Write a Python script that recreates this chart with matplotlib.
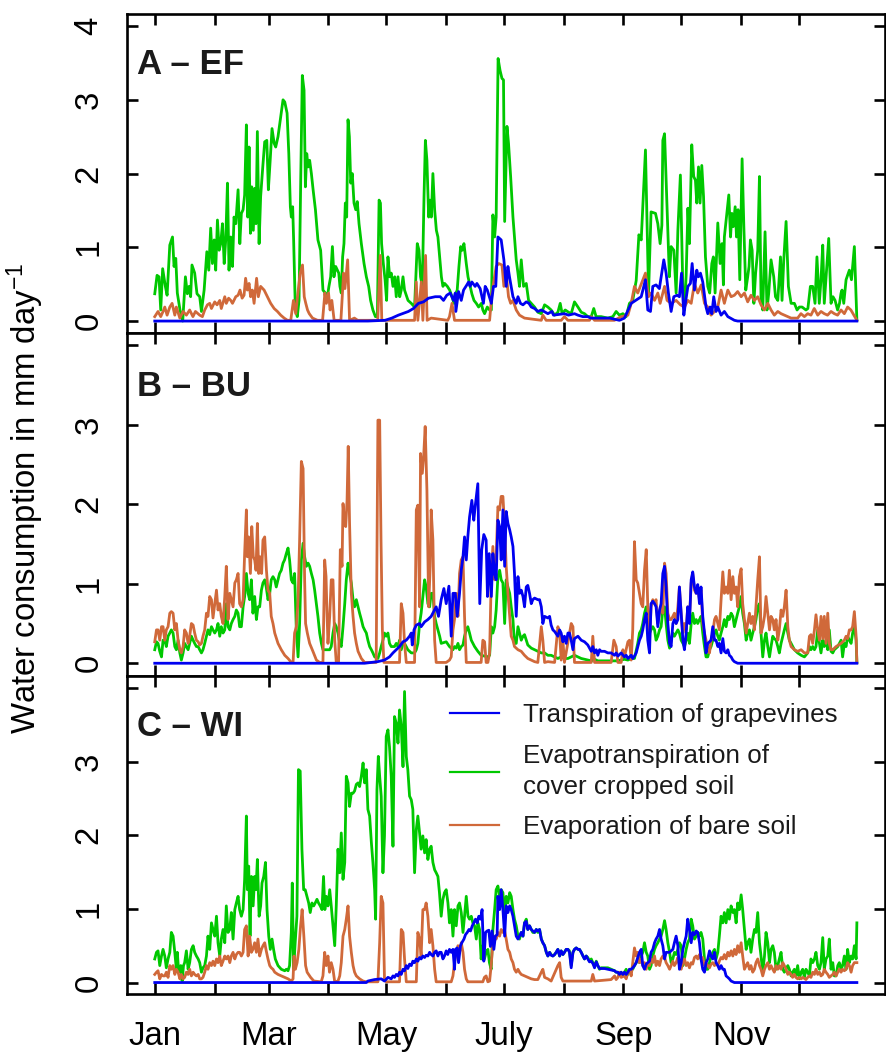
import matplotlib
matplotlib.use('Agg')
import matplotlib.pyplot as plt

plt.rcParams['font.family'] = ['Liberation Sans', 'DejaVu Sans']
plt.rcParams['mathtext.fontset'] = 'custom'
plt.rcParams['mathtext.rm'] = 'Liberation Sans'
plt.rcParams['mathtext.it'] = 'Liberation Sans:italic'
plt.rcParams['mathtext.bf'] = 'Liberation Sans:bold'

# ---------------- data ----------------
month_start_days = [1, 32, 60, 91, 121, 152, 182, 213, 244, 274, 305, 335]
month_labels = ['Jan', '', 'Mar', '', 'May', '', 'July', '', 'Sep', '', 'Nov', '']
y_ticks = [0, 1, 2, 3, 4]
panel_names = ['A \u2013 EF', 'B \u2013 BU', 'C \u2013 WI']
legend_labels = ['Transpiration of grapevines',
                 'Evapotranspiration of\ncover cropped soil',
                 'Evaporation of bare soil']
y_title = 'Water consumption in mm day$^{-1}$'

# (day of year, mm/day)
ef_green = [(1.0,0.37),(2.2,0.62),(3.2,0.60),(4.1,0.15),(5.1,0.71),(6.5,0.47),(7.4,0.35),(8.8,1.03),(10.2,1.14),(11.0,0.74),(11.9,0.85),(12.7,0.38),(14.1,0.15),(15.5,0.0),(16.9,0.60),(17.9,0.37),(18.8,0.47),(19.6,0.33),(20.3,0.76),(21.7,0.65),(22.9,0.37),(24.3,0.33),(25.2,0.13),(26.6,0.42),(28.0,0.94),(29.0,0.69),(30.0,1.26),(30.9,0.78),(31.8,1.10),(32.6,0.69),(33.5,1.37),(34.4,0.96),(35.2,1.05),(36.1,1.32),(37.0,0.78),(37.8,1.10),(38.7,1.87),(39.5,0.69),(40.4,1.14),(41.3,0.74),(42.1,1.41),(43.0,1.32),(44.2,1.78),(45.1,1.05),(45.9,1.46),(46.8,1.51),(47.6,1.71),(48.5,2.66),(49.2,1.41),(49.9,2.36),(50.6,1.19),(51.3,1.82),(52.1,1.23),(52.8,1.80),(53.5,1.32),(54.2,2.57),(55.1,1.05),(55.9,1.69),(57.0,2.09),(58.0,2.43),(59.1,2.45),(59.9,1.78),(60.8,2.16),(61.8,2.61),(62.9,2.41),(63.7,2.36),(64.9,2.50),(66.1,2.73),(67.5,3.00),(68.4,2.97),(69.6,2.82),(70.5,2.27),(71.3,1.55),(71.8,1.41),(72.5,1.55),(73.0,1.10),(73.9,0.15),(74.9,0.06),(75.8,0.28),(76.7,1.96),(77.5,3.33),(78.4,3.13),(79.1,1.82),(79.8,2.27),(80.5,2.09),(81.3,2.18),(82.2,2.00),(83.1,1.78),(84.3,1.51),(85.6,1.10),(87.0,0.96),(88.2,0.42),(89.4,0.38),(90.5,0.33),(91.3,0.47),(92.2,0.60),(93.1,1.01),(93.9,0.60),(94.8,0.74),(95.7,0.69),(96.4,0.65),(97.0,0.47),(97.7,0.38),(98.4,0.87),(99.1,1.05),(99.8,1.60),(100.5,1.41),(101.2,2.73),(101.9,2.50),(102.6,1.87),(103.4,2.00),(104.3,1.60),(105.2,1.51),(106.0,1.62),(106.9,1.32),(108.1,1.05),(109.5,0.78),(110.7,0.60),(111.9,0.47),(112.9,0.28),(114.1,0.15),(115.4,0.06),(116.4,0.06),(117.3,1.64),(118.0,1.60),(118.6,1.05),(119.5,0.78),(120.4,0.56),(121.2,0.28),(121.9,0.87),(122.8,0.60),(123.6,0.65),(124.5,0.47),(125.4,0.60),(126.2,0.33),(127.1,0.60),(128.0,0.33),(128.8,0.42),(129.7,0.60),(130.5,0.42),(132.3,0.28),(134.0,0.24),(135.7,0.19),(137.1,1.05),(138.0,0.96),(138.8,0.60),(139.7,0.47),(140.6,1.69),(141.3,2.45),(142.1,2.18),(143.0,1.41),(143.7,1.64),(144.4,1.41),(145.2,2.00),(146.1,1.51),(147.0,1.23),(147.8,1.14),(148.7,0.87),(149.6,0.60),(150.4,0.47),(151.3,0.51),(152.7,0.47),(153.9,0.42),(155.1,0.33),(156.1,0.24),(157.0,0.37),(157.8,0.42),(158.7,0.74),(159.6,1.01),(160.4,0.96),(161.3,1.05),(162.5,0.78),(163.4,0.60),(164.2,0.51),(165.4,0.37),(166.5,0.28),(167.7,0.24),(168.9,0.19),(170.3,0.24),(171.1,0.15),(172.0,0.10),(173.4,0.19),(174.6,0.15),(175.5,0.15),(176.3,1.44),(177.2,1.14),(178.0,1.41),
            (179.0,3.56),(180.0,3.40),(181.0,3.29),(181.8,3.27),(182.4,1.35),(183.6,2.64),(184.4,2.41),(185.5,1.96),(186.7,1.41),(188.4,0.83),(189.3,0.65),(190.1,0.47),(191.0,0.83),(192.2,0.47),(193.6,0.51),(194.8,0.28),(196.2,0.24),(197.9,0.19),(199.6,0.12),(201.4,0.10),(203.1,0.22),(204.8,0.19),(206.5,0.15),(208.3,0.08),(210.0,0.12),(211.2,0.24),(212.2,0.10),(213.8,0.15),(215.5,0.12),(216.9,0.10),(218.6,0.26),(220.4,0.19),(222.1,0.12),(223.8,0.10),(225.5,0.06),(227.3,0.06),(228.6,0.17),(229.8,0.06),(232.4,0.06),(235.9,0.04),(238.5,0.06),(240.2,0.13),(241.9,0.08),(243.7,0.10),(245.4,0.06),(247.1,0.24),(248.8,0.28),(250.6,0.55),(252.0,1.17),(253.2,1.10),(255.4,2.32),(257.0,0.38),(258.3,1.48),(260.6,1.46),(261.8,1.32),(263.0,1.05),(263.9,1.30),(264.4,2.45),(265.3,2.54),(266.6,1.51),(267.8,0.60),(268.7,1.01),(270.1,0.96),(271.3,0.38),(272.2,1.23),(273.5,1.98),(274.8,0.42),(275.6,0.15),(276.5,0.62),(277.4,1.53),(278.2,1.05),(279.4,2.39),(280.4,1.96),(281.3,1.91),(282.0,1.60),(282.9,2.09),(283.7,1.60),(284.6,2.11),(285.5,1.69),(286.5,0.87),(287.7,0.47),(288.7,0.38),(289.8,0.78),(290.6,0.87),(291.5,0.38),(292.9,1.33),(294.1,0.78),(295.1,1.05),(295.8,0.49),(296.3,1.14),(298.6,1.71),(299.5,1.14),(300.2,1.46),(300.9,1.28),(301.9,1.55),(302.6,1.14),(303.4,1.51),(304.3,0.56),(305.5,2.20),(306.4,1.28),(307.4,0.42),(308.4,0.60),(309.1,0.74),(309.8,1.10),(310.7,0.96),(311.6,0.24),(312.5,0.65),(313.6,0.96),(314.5,1.96),(315.3,0.33),(316.2,0.15),(317.4,1.21),(318.4,0.15),(319.3,0.38),(320.5,0.83),(321.9,0.60),(322.8,0.33),(324.0,0.28),(325.4,0.87),(326.2,0.28),(327.1,0.83),(328.3,1.35),(329.5,0.47),(330.9,0.24),(332.6,0.24),(334.0,0.15),(335.2,0.19),(336.6,0.19),(338.6,0.15),(339.6,0.17),(340.9,0.47),(342.1,0.47),(343.3,0.24),(344.3,0.87),(345.5,0.24),(346.4,0.56),(347.3,1.03),(348.1,0.24),(350.4,1.12),(351.6,0.24),(352.6,0.33),(353.7,0.28),(355.0,0.15),(356.0,0.24),(356.8,0.38),(357.3,0.42),(358.2,0.24),(359.4,0.56),(361.1,0.69),(362.2,0.56),(363.7,1.01),(365.0,0.01)]

ef_orange = [(1.0,0.06),(2.7,0.13),(4.1,0.06),(5.3,0.13),(6.2,0.19),(7.4,0.08),(8.8,0.19),(10.0,0.24),(11.4,0.08),(12.2,0.19),(14.0,0.04),(15.7,0.13),(17.4,0.08),(19.1,0.15),(20.8,0.06),(22.1,0.13),(24.3,0.08),(25.7,0.06),(26.9,0.15),(28.3,0.22),(29.5,0.24),(30.4,0.17),(32.1,0.26),(33.3,0.22),(34.7,0.28),(35.5,0.17),(37.3,0.33),(38.1,0.24),(39.3,0.31),(40.4,0.28),(41.3,0.24),(43.0,0.33),(44.2,0.35),(45.2,0.42),(46.3,0.31),(47.3,0.35),(48.1,0.58),(49.0,0.42),(49.9,0.51),(50.7,0.33),(51.6,0.42),(52.5,0.24),(53.8,0.58),(54.7,0.33),(55.9,0.47),(57.7,0.42),(59.4,0.33),(61.1,0.24),(62.9,0.17),(64.6,0.13),(66.3,0.08),(68.1,0.04),(69.8,0.01),(71.5,0.01),(72.9,0.28),(74.1,0.10),(75.0,0.33),(76.4,0.65),(77.6,0.76),(78.5,0.33),(79.3,0.24),(80.2,0.15),(81.1,0.10),(82.8,0.04),(85.4,0.01),(88.0,0.01),(89.2,0.38),(90.0,0.24),(91.1,0.38),(91.9,0.15),(92.8,0.28),(94.0,0.01),(97.5,0.01),(98.9,0.65),(99.6,0.44),(101.0,0.83),(102.0,0.01),(104.5,0.04),(106.2,0.01),(116.6,0.01),(117.9,0.89),(118.7,0.01),(135.7,0.01),(136.6,0.53),(137.4,0.01),(139.2,0.53),(140.0,0.01),(141.4,0.89),(142.2,0.01),(144.3,0.04),(152.9,0.01),(153.8,0.06),(155.1,0.24),(156.4,0.01),(170.3,0.01),(174.6,0.01),(175.8,0.38),(178.0,0.74),
             (179.3,0.78),(181.0,0.76),(182.0,0.47),(183.2,0.65),(184.4,0.33),(185.5,0.24),(186.7,0.28),(188.4,0.15),(190.1,0.08),(192.7,0.04),(201.4,0.01),(202.2,0.08),(203.9,0.01),(211.7,0.01),(213.4,0.06),(215.2,0.01),(226.4,0.01),(227.3,0.06),(229.0,0.01),(239.3,0.01),(242.8,0.06),(246.3,0.08),(248.0,0.24),(249.7,0.47),(251.4,0.38),(255.4,0.65),(257.0,0.33),(258.3,0.38),(260.1,0.28),(261.8,0.38),(263.0,0.24),(265.3,0.47),(266.6,0.28),(268.7,0.24),(271.3,0.28),(273.5,0.22),(275.6,0.19),(277.4,0.28),(279.1,0.24),(280.8,0.51),(282.5,0.38),(284.3,0.49),(286.0,0.24),(287.7,0.19),(289.4,0.08),(291.2,0.13),(292.9,0.19),(294.6,0.42),(296.3,0.24),(298.1,0.42),(299.8,0.33),(301.5,0.35),(303.2,0.40),(305.0,0.33),(306.7,0.38),(308.4,0.26),(310.1,0.35),(311.9,0.28),(313.6,0.33),(315.3,0.22),(317.1,0.15),(318.8,0.24),(320.5,0.15),(322.2,0.08),(324.0,0.13),(325.7,0.10),(327.4,0.08),(330.9,0.04),(334.3,0.04),(336.0,0.10),(337.8,0.06),(339.5,0.10),(341.2,0.08),(342.9,0.17),(344.7,0.08),(346.4,0.13),(348.1,0.10),(349.8,0.08),(351.6,0.13),(353.3,0.10),(355.0,0.08),(356.8,0.15),(358.5,0.10),(360.2,0.19),(361.9,0.15),(365.0,0.01)]

ef_blue = [(1,0.0),(111.5,0.0),(120.4,0.01),(123.9,0.04),(127.3,0.08),(132.5,0.13),(135.1,0.17),(137.7,0.24),(140.3,0.26),(142.9,0.31),(146.4,0.33),(149.0,0.33),(150.7,0.28),(152.4,0.35),(154.2,0.38),(155.9,0.28),(156.8,0.38),(157.1,0.13),(158.5,0.40),(159.9,0.28),(161.1,0.42),(162.8,0.49),(163.7,0.53),(164.5,0.47),(165.4,0.53),(167.1,0.47),(168.0,0.51),(169.7,0.44),(171.4,0.24),(172.3,0.47),(173.4,0.42),(175.5,0.24),(176.6,0.47),(177.8,0.47),
           (178.9,1.14),(180.6,1.10),(182.0,0.83),(183.2,0.47),(184.1,0.74),(184.9,0.60),(186.7,0.33),(188.4,0.24),(189.3,0.33),(190.6,0.24),(191.9,0.22),(193.6,0.26),(195.0,0.24),(196.2,0.19),(197.9,0.17),(199.6,0.13),(201.4,0.15),(202.8,0.13),(204.8,0.10),(206.9,0.13),(207.7,0.08),(213.4,0.10),(215.5,0.08),(218.6,0.10),(220.4,0.08),(222.9,0.06),(225.5,0.06),(227.0,0.04),(232.8,0.04),(236.9,0.04),(241.9,0.01),(244.5,0.04),(248.0,0.24),(253.2,0.33),(255.4,0.56),(256.6,0.15),(258.0,0.13),(259.2,0.47),(260.9,0.49),(262.6,0.44),(264.9,0.83),(266.1,0.65),(267.3,0.38),(268.7,0.13),(270.1,0.33),(271.8,0.35),(273.0,0.33),(274.1,0.65),(275.3,0.08),(276.1,0.24),(277.4,0.47),(278.7,0.51),(279.6,0.78),(280.8,0.42),(282.0,0.69),(282.9,0.60),(283.9,0.65),(285.1,0.53),(286.8,0.19),(287.7,0.10),(288.9,0.19),(289.8,0.10),(290.8,0.33),(292.0,0.13),(292.9,0.19),(294.6,0.08),(296.3,0.13),(298.1,0.06),(301.5,0.01),(303.2,0.0),(365,0.0)]

bu_green = [(1.0,0.17),(1.9,0.27),(2.7,0.25),(3.6,0.15),(4.5,0.08),(5.3,0.29),(6.2,0.29),(7.0,0.21),(7.9,0.34),(8.8,0.38),(9.6,0.42),(10.5,0.38),(11.4,0.21),(12.2,0.17),(13.1,0.29),(14.0,0.13),(14.8,0.04),(15.7,0.13),(16.5,0.25),(17.4,0.21),(18.3,0.17),(19.1,0.25),(20.0,0.34),(20.9,0.29),(21.7,0.25),(22.6,0.21),(23.5,0.21),(24.3,0.17),(25.2,0.13),(26.0,0.17),(26.9,0.25),(27.8,0.34),(28.6,0.42),(29.5,0.36),(30.4,0.46),(31.2,0.42),(32.1,0.38),(33.0,0.42),(33.8,0.50),(34.7,0.34),(35.5,0.46),(36.4,0.38),(37.3,0.42),(38.1,0.75),(39.0,0.46),(39.9,0.42),(40.7,0.50),(41.6,0.55),(42.5,0.59),(43.3,0.67),(44.2,0.63),(45.0,0.46),(45.9,0.46),(46.8,0.71),(47.6,0.84),(48.5,1.13),(49.4,0.88),(50.2,0.80),(51.1,1.05),(51.9,0.63),(52.8,0.84),(53.7,0.55),(54.5,0.71),(55.4,0.71),(56.3,0.92),(57.1,1.01),(58.0,1.05),(58.8,0.96),(59.7,0.80),(60.6,0.88),(61.4,1.05),(62.3,1.09),(63.2,1.05),(64.0,0.96),(64.9,1.05),(65.7,1.13),(66.6,1.17),(67.5,1.26),(68.3,1.30),(69.2,1.38),(70.1,1.45),(70.9,1.30),(71.8,1.05),(72.7,1.01),(73.5,1.13),(74.4,0.42),(75.3,0.08),(76.1,0.50),(77.0,1.30),(77.9,1.51),(78.7,1.34),(79.6,1.22),(80.5,1.26),(81.3,1.22),(82.2,1.13),(83.1,1.05),(83.9,0.92),(84.8,0.75),(85.6,0.59),(86.5,0.38),(87.4,0.25),(88.2,0.17),(89.1,0.17),(90.8,0.17),(91.7,0.17),(92.5,0.21),(93.4,0.38),(94.3,0.50),(95.1,0.46),(96.0,0.38),(96.9,0.25),(97.7,0.21),(98.6,0.46),(99.5,0.75),(100.3,1.05),(101.2,1.26),(102.0,1.13),(102.9,1.01),(103.8,0.80),(104.6,0.71),(105.5,0.80),(106.4,0.71),(107.2,0.63),(108.1,0.55),(109.0,0.46),(109.8,0.42),(110.7,0.38),(111.5,0.29),(112.4,0.21),(113.3,0.17),(114.1,0.13),(115.0,0.08),(116.7,0.06),(117.6,0.13),(118.4,0.21),(119.3,0.29),(120.1,0.38),(121.0,0.34),(121.9,0.38),(122.7,0.25),(123.6,0.21),(125.3,0.21),(126.2,0.25),(127.1,0.21),(127.9,0.29),(128.8,0.17),(129.7,0.25),(130.5,0.25),(132.2,0.17),(134.0,0.13),(135.7,0.13),(136.6,0.17),(137.4,0.25),(138.3,0.50),(139.1,0.63),(140.0,0.84),(140.9,1.05),(141.7,0.96),(142.6,0.75),(143.5,0.71),(144.3,0.88),(145.2,0.88),(146.1,0.59),(146.9,0.50),(147.8,0.42),(148.7,0.34),(149.5,0.25),(152.1,0.27),(153.8,0.21),(155.6,0.17),(156.4,0.21),(157.3,0.19),(158.2,0.25),(159.0,0.17),(159.9,0.21),(160.8,0.23),(161.6,0.34),(162.5,0.42),(163.3,0.46),(164.2,0.38),(165.1,0.29),(166.8,0.21),(168.5,0.15),(170.2,0.10),(171.9,0.09),(173.7,0.08),(174.6,0.10),
            (175.5,0.46),(176.3,0.38),(177.2,0.46),(178.0,0.67),(178.9,1.09),(179.8,1.17),(180.6,1.05),(181.5,1.01),(182.4,0.50),(183.2,1.05),(184.1,0.96),(185.0,0.88),(185.8,0.71),(186.7,0.55),(187.5,0.25),(188.4,0.25),(189.3,0.46),(190.1,0.38),(191.0,0.29),(191.9,0.34),(192.7,0.36),(193.6,0.29),(194.4,0.23),(195.3,0.21),(196.2,0.19),(197.9,0.17),(199.6,0.15),(201.4,0.13),(203.1,0.13),(204.8,0.10),(206.5,0.10),(208.3,0.08),(210.0,0.06),(211.7,0.08),(213.4,0.06),(215.2,0.06),(216.9,0.08),(218.6,0.10),(220.4,0.08),(222.1,0.06),(223.8,0.05),(225.5,0.04),(227.3,0.03),(229.0,0.05),(230.7,0.03),(234.2,0.03),(237.6,0.03),(241.1,0.03),(244.5,0.05),(246.3,0.04),(248.0,0.06),(249.7,0.06),(251.4,0.25),(252.3,0.38),(253.2,0.42),(254.0,0.50),(254.9,0.63),(255.8,0.71),(256.6,0.42),(257.5,0.38),(258.3,0.42),(259.2,0.46),(260.1,0.42),(260.9,0.29),(261.8,0.34),(262.7,0.42),(263.5,0.46),(264.4,0.67),(265.3,0.71),(266.1,0.50),(267.0,0.29),(267.9,0.19),(268.7,0.29),(269.6,0.38),(270.4,0.34),(271.3,0.38),(272.2,0.42),(273.0,0.38),(273.9,0.29),(274.8,0.25),(275.6,0.21),(276.5,0.29),(277.3,0.38),(278.2,0.25),(279.1,0.50),(279.9,0.63),(280.8,0.50),(281.7,0.55),(282.5,0.50),(283.4,0.55),(284.2,0.59),(285.1,0.38),(286.0,0.21),(286.8,0.08),(287.7,0.08),(288.6,0.17),(289.4,0.21),(290.3,0.29),(291.2,0.38),(292.0,0.42),(292.9,0.34),(293.7,0.29),(294.6,0.38),(295.5,0.46),(296.3,0.55),(297.2,0.46),(298.1,0.59),(298.9,0.55),(299.8,0.63),(300.7,0.59),(301.5,0.46),(302.4,0.55),(303.2,0.63),(304.1,0.71),(305.0,0.84),(305.8,0.63),(306.7,0.50),(307.6,0.29),(308.4,0.38),(309.3,0.42),(310.1,0.29),(311.0,0.38),(311.9,0.46),(312.7,0.55),(313.6,0.71),(314.5,0.75),(315.3,0.38),(316.2,0.08),(317.1,0.29),(317.9,0.38),(318.8,0.21),(319.7,0.08),(320.5,0.21),(321.4,0.34),(322.2,0.31),(323.1,0.29),(324.0,0.21),(324.8,0.13),(325.7,0.25),(326.6,0.34),(327.4,0.42),(328.3,0.50),(329.2,0.38),(330.0,0.29),(330.9,0.25),(332.6,0.17),(334.3,0.13),(336.1,0.10),(337.8,0.08),(339.5,0.13),(340.4,0.21),(341.2,0.17),(342.1,0.21),(343.0,0.17),(343.8,0.21),(344.7,0.42),(345.6,0.25),(346.4,0.13),(347.3,0.29),(348.1,0.21),(349.0,0.29),(349.9,0.17),(350.7,0.42),(351.6,0.15),(352.5,0.13),(353.3,0.17),(355.1,0.21),(356.8,0.29),(357.6,0.08),(358.5,0.25),(359.4,0.21),(360.2,0.34),(361.1,0.29),(362.0,0.25),(362.8,0.38),(363.7,0.46),(364.6,0.29),(365.0,0.01)]

bu_orange = [(1.0,0.27),(1.9,0.42),(2.7,0.42),(3.6,0.29),(4.5,0.46),(5.3,0.46),(6.2,0.29),(7.0,0.42),(7.9,0.46),(8.8,0.63),(9.6,0.65),(10.5,0.63),(11.4,0.42),(12.2,0.50),(13.1,0.29),(14.0,0.17),(14.8,0.13),(15.7,0.21),(16.5,0.42),(17.4,0.38),(18.3,0.25),(19.1,0.34),(20.0,0.50),(20.9,0.48),(21.7,0.38),(22.6,0.29),(23.5,0.27),(24.3,0.23),(25.2,0.25),(26.0,0.34),(26.9,0.42),(27.8,0.63),(28.6,0.59),(29.5,0.84),(30.4,0.80),(31.2,0.57),(32.1,0.75),(33.0,0.92),(33.8,0.67),(34.7,0.75),(35.5,0.59),(36.4,0.50),(37.3,0.84),(38.1,1.22),(39.0,0.55),(39.9,0.88),(40.7,0.80),(41.6,0.71),(42.5,1.01),(43.3,1.05),(44.2,1.13),(45.0,0.75),(45.9,0.71),(46.8,0.80),(47.6,1.38),(48.5,1.93),(49.0,1.34),(49.7,1.59),(50.6,1.13),(51.3,1.72),(52.1,1.34),(52.8,1.30),(53.5,1.17),(54.2,1.76),(54.9,1.13),(55.7,1.34),(56.4,1.13),(57.1,1.55),(58.0,1.59),(58.9,1.17),(59.7,0.92),(60.6,0.88),(61.4,0.59),(62.3,0.50),(63.2,0.38),(64.9,0.25),(66.6,0.17),(68.4,0.10),(70.1,0.06),(71.8,0.01),(72.7,0.01),(73.5,0.38),(74.4,0.46),(75.3,0.80),(76.1,1.55),(77.0,2.54),(77.9,2.45),(78.7,1.05),(79.2,0.50),(80.1,0.38),(81.3,0.25),(83.0,0.15),(84.8,0.04),(86.5,0.01),(88.2,0.01),(89.1,1.30),(89.8,1.09),(90.3,0.63),(90.8,0.25),(91.7,0.59),(92.5,1.05),(93.4,1.05),(94.3,0.29),(95.1,0.01),(96.3,0.01),(97.2,1.43),(98.1,1.22),(98.6,2.01),(99.3,1.80),(100.0,1.72),(100.7,2.05),(101.3,2.73),(102.0,1.76),(102.9,0.88),(103.8,0.59),(104.6,0.38),(105.5,0.25),(106.4,0.15),(108.1,0.06),(109.8,0.01),(115.8,0.01),(116.7,3.06),(117.6,3.06),(118.3,1.55),(119.0,0.42),(119.8,0.01),(127.9,0.01),(128.8,0.75),(129.7,0.63),(130.5,0.25),(131.4,0.01),(135.7,0.01),(136.6,1.93),(137.4,1.99),(138.3,0.71),(138.8,2.64),(139.7,2.39),(140.4,2.60),(141.2,2.98),(142.1,2.18),(143.0,0.71),(143.8,1.22),(144.3,1.93),(145.2,1.55),(146.1,0.29),(146.9,0.01),(152.1,0.01),(153.8,0.04),(154.7,0.08),(155.6,0.42),(156.4,0.55),(157.3,0.88),(158.2,0.59),(159.0,1.13),(159.9,1.30),(160.8,1.34),(161.6,0.59),(162.5,0.01),(170.2,0.01),(171.1,0.29),(172.0,0.27),(172.8,0.01),(173.7,0.01),(174.6,0.13),
             (175.5,1.13),(176.3,1.47),(177.2,1.05),(178.0,1.34),(178.9,1.97),(179.8,1.93),(180.6,2.10),(181.5,2.10),(182.4,1.72),(183.2,1.22),(184.1,0.88),(185.0,0.59),(185.8,0.34),(186.7,0.29),(187.5,0.21),(188.4,0.19),(189.3,0.17),(191.0,0.15),(192.7,0.10),(194.4,0.06),(196.2,0.04),(197.9,0.02),(199.6,0.01),(201.4,0.46),(202.2,0.29),(203.1,0.01),(204.8,0.02),(208.3,0.01),(210.0,0.46),(210.9,0.38),(211.7,0.04),(212.6,0.29),(213.4,0.01),(216.9,0.50),(217.8,0.46),(218.6,0.01),(227.3,0.01),(228.1,0.34),(229.0,0.01),(237.6,0.01),(239.0,0.29),(240.2,0.21),(241.1,0.01),(242.8,0.01),(243.7,0.17),(244.5,0.08),(246.3,0.27),(247.1,0.29),(248.0,0.04),(248.8,0.42),(249.7,1.53),(250.6,1.05),(251.4,1.01),(252.3,0.88),(253.2,0.75),(254.0,0.71),(254.9,1.17),(255.8,1.43),(256.6,0.71),(257.5,0.29),(258.3,0.71),(259.2,0.80),(260.1,0.75),(260.9,0.80),(261.8,0.50),(262.7,0.63),(263.5,0.71),(264.4,0.63),(265.3,1.26),(266.1,1.13),(267.0,0.63),(267.9,0.55),(268.7,0.55),(269.6,0.59),(270.4,0.63),(271.3,0.50),(272.2,0.71),(273.0,0.96),(273.9,0.63),(274.8,0.38),(275.6,0.50),(276.5,0.42),(277.3,0.71),(278.2,0.55),(279.1,1.01),(279.9,1.13),(280.8,0.92),(281.7,0.88),(282.5,0.96),(283.4,0.80),(284.2,0.92),(285.1,0.50),(286.0,0.38),(286.8,0.29),(287.7,0.17),(288.6,0.13),(289.4,0.29),(290.3,0.38),(291.2,0.55),(292.0,0.59),(292.9,0.50),(293.7,0.42),(294.6,0.80),(295.5,1.15),(296.3,0.88),(297.2,0.96),(298.1,0.88),(298.9,1.17),(299.8,0.80),(300.7,1.09),(301.5,0.88),(302.4,0.96),(303.2,0.71),(304.1,1.09),(305.0,1.19),(305.8,0.75),(306.7,0.55),(307.6,0.38),(308.4,0.50),(309.3,0.63),(310.1,0.50),(311.0,0.59),(311.9,0.42),(312.7,0.71),(313.6,1.05),(314.5,1.34),(315.3,0.38),(316.2,0.46),(317.1,0.59),(317.9,0.84),(318.8,0.63),(319.7,0.42),(320.5,0.59),(321.4,0.55),(322.2,0.42),(323.1,0.55),(324.0,0.29),(324.8,0.42),(325.7,0.67),(326.6,0.59),(327.4,0.71),(328.3,0.92),(329.2,0.46),(330.0,0.29),(330.9,0.21),(332.6,0.17),(334.3,0.15),(336.1,0.17),(337.8,0.13),(339.5,0.13),(340.4,0.34),(341.2,0.36),(342.1,0.25),(343.0,0.42),(343.8,0.61),(344.7,0.42),(345.6,0.29),(346.4,0.59),(347.3,0.31),(348.1,0.59),(349.0,0.25),(349.9,0.63),(350.7,0.25),(351.6,0.17),(352.5,0.17),(354.2,0.21),(356.8,0.25),(358.5,0.29),(359.4,0.34),(360.2,0.31),(361.1,0.42),(362.0,0.42),(362.8,0.46),(363.7,0.65),(364.6,0.34),(365.0,0.01)]

bu_blue = [(1,0.0),(109.8,0.0),(116.6,0.02),(120.1,0.04),(122.7,0.08),(124.5,0.13),(126.2,0.17),(127.9,0.21),(129.7,0.27),(131.4,0.29),(133.1,0.34),(134.0,0.38),(134.5,0.23),(135.4,0.42),(136.6,0.48),(138.3,0.50),(139.1,0.46),(140.9,0.52),(142.6,0.55),(144.3,0.59),(145.6,0.65),(146.9,0.71),(148.1,0.59),(149.5,0.80),(150.9,0.94),(152.1,0.75),(153.5,0.97),(154.7,0.34),(155.6,0.88),(156.8,0.88),(157.8,0.59),(159.0,0.88),(159.9,1.17),(160.8,1.34),(161.6,1.59),(162.5,1.30),(163.3,1.59),(164.2,1.84),(165.4,2.05),(166.4,1.80),(167.1,1.97),(168.5,2.26),(169.5,0.75),(170.5,1.43),(171.6,1.62),(172.8,1.55),(173.5,0.84),(174.4,1.38),
           (175.5,0.84),(176.3,1.38),(177.2,1.13),(178.0,1.05),(178.9,1.80),(179.8,1.72),(180.6,1.30),(181.5,1.93),(182.4,1.22),(183.2,1.91),(184.1,1.76),(185.0,1.68),(185.8,1.59),(186.7,1.47),(187.5,1.13),(188.4,0.59),(189.3,1.09),(190.1,0.88),(191.0,0.92),(191.9,0.84),(192.7,0.71),(193.6,0.96),(194.4,0.98),(195.3,0.88),(196.2,0.75),(197.0,0.80),(197.9,0.82),(199.6,0.80),(200.5,0.80),(201.4,0.71),(202.2,0.50),(203.1,0.59),(204.8,0.57),(205.7,0.59),(206.5,0.48),(207.4,0.42),(208.3,0.40),(210.0,0.34),(210.9,0.42),(211.7,0.38),(212.6,0.27),(213.4,0.34),(214.3,0.25),(215.2,0.38),(216.0,0.38),(216.9,0.29),(217.8,0.17),(218.6,0.31),(220.4,0.34),(222.1,0.29),(223.8,0.27),(225.5,0.23),(227.3,0.15),(228.1,0.21),(229.0,0.13),(229.9,0.17),(230.7,0.10),(231.6,0.17),(232.4,0.15),(234.2,0.15),(235.9,0.13),(237.6,0.13),(239.4,0.10),(240.2,0.13),(241.1,0.09),(242.8,0.13),(244.5,0.08),(245.4,0.10),(246.3,0.06),(248.0,0.10),(248.8,0.06),(249.7,0.09),(250.6,0.13),(252.3,0.29),(253.2,0.34),(254.0,0.42),(254.9,0.55),(255.8,0.63),(256.6,0.29),(257.5,0.13),(258.3,0.75),(259.2,0.78),(260.1,0.75),(260.9,0.71),(261.8,0.46),(262.7,0.67),(263.5,0.75),(264.4,1.13),(265.3,1.22),(266.1,0.96),(267.0,0.50),(267.9,0.25),(268.7,0.21),(269.6,0.50),(270.4,0.55),(271.3,0.50),(272.2,0.55),(273.0,0.96),(273.9,0.63),(274.8,0.29),(275.6,0.17),(276.5,0.38),(277.3,0.71),(278.2,0.50),(279.1,1.05),(279.9,1.15),(280.8,0.96),(281.7,0.88),(282.5,0.99),(283.4,0.75),(284.2,0.96),(285.1,0.59),(286.0,0.38),(286.8,0.13),(287.7,0.25),(288.6,0.27),(289.4,0.29),(290.3,0.46),(291.2,0.29),(292.0,0.29),(292.9,0.21),(293.7,0.25),(294.6,0.13),(295.5,0.31),(296.3,0.15),(297.2,0.13),(298.1,0.17),(298.9,0.10),(299.8,0.08),(300.7,0.04),(301.5,0.02),(303.2,0.0),(365,0.0)]

wi_green = [(1.0,0.32),(1.9,0.41),(2.7,0.43),(3.6,0.23),(4.5,0.36),(5.3,0.45),(6.2,0.36),(7.0,0.20),(7.9,0.32),(8.8,0.41),(9.6,0.68),(10.5,0.63),(11.4,0.41),(12.2,0.18),(12.7,0.41),(13.4,0.14),(14.5,0.23),(15.2,0.02),(15.9,0.23),(16.5,0.27),(17.4,0.43),(18.3,0.18),(19.1,0.27),(20.0,0.45),(20.9,0.50),(21.7,0.41),(22.6,0.36),(23.5,0.32),(24.3,0.27),(25.2,0.14),(26.0,0.20),(26.9,0.23),(27.8,0.36),(28.6,0.63),(29.5,0.45),(30.4,0.81),(31.2,0.72),(32.1,0.63),(33.0,0.90),(33.8,0.54),(34.7,0.36),(35.5,0.59),(36.4,0.72),(37.3,0.54),(38.1,1.04),(39.0,0.68),(39.9,0.72),(40.7,0.95),(41.6,0.59),(42.5,0.99),(43.3,1.08),(44.2,1.17),(45.0,0.99),(45.9,0.90),(46.8,0.99),(47.6,1.40),(48.5,2.26),(49.0,1.26),(49.7,1.58),(50.4,0.63),(51.1,1.44),(52.0,1.04),(52.8,1.44),(53.5,1.26),(54.2,1.67),(55.1,0.90),(55.9,1.04),(56.6,1.35),(57.5,1.44),(58.4,1.63),(59.2,0.99),(60.1,0.63),(60.9,0.45),(61.8,0.59),(62.6,0.45),(63.5,0.32),(64.9,0.23),(66.6,0.18),(68.4,0.16),(69.2,0.18),(70.1,0.16),(70.9,0.23),(71.8,0.68),(72.3,1.35),(73.0,0.18),(73.8,0.54),(74.7,0.90),(75.5,2.89),(76.4,2.87),(77.3,1.81),(78.2,1.26),(79.0,1.26),(79.9,1.17),(80.8,1.08),(81.6,0.95),(82.5,1.08),(83.4,1.04),(84.2,1.08),(85.1,1.13),(85.9,1.08),(86.8,1.04),(87.7,0.99),(88.5,1.44),(89.2,0.99),(89.9,1.17),(90.8,1.04),(91.7,1.26),(92.5,1.04),(93.4,0.77),(94.3,0.50),(95.1,1.04),(96.0,1.81),(96.9,1.49),(97.7,2.03),(98.6,1.40),(99.5,1.63),(100.3,2.80),(101.2,2.71),(102.0,2.39),(102.9,2.57),(103.8,2.57),(104.6,2.60),(105.5,2.69),(106.4,2.71),(107.2,2.66),(108.1,2.80),(109.0,2.98),(109.8,2.71),(110.7,2.89),(111.5,2.35),(112.4,2.26),(113.3,1.90),(114.1,1.63),(115.0,1.26),(115.5,0.86),(116.2,2.62),(116.9,3.07),(117.6,2.80),(118.4,2.53),(119.3,1.49),(120.1,1.99),(121.0,3.34),(121.9,3.43),(122.7,3.20),(123.6,2.80),(124.5,1.85),(125.3,3.61),(126.2,3.52),(127.1,3.25),(127.9,3.70),(128.8,3.48),(129.7,2.93),(130.5,3.95),(131.4,3.07),(132.2,2.89),(133.1,2.53),(134.0,2.48),(134.8,2.35),(135.7,1.49),(136.6,2.08),(137.4,2.26),(138.3,2.03),(139.1,1.81),(140.0,1.99),(140.9,1.76),(141.7,1.94),(142.6,1.67),(143.5,1.81),(144.3,1.85),(145.2,1.63),(146.1,1.53),(146.9,1.49),(147.8,1.44),(148.6,1.22),(149.5,0.90),(150.4,1.13),(151.2,1.22),(152.1,1.26),(153.0,1.08),(153.8,0.81),(154.7,0.99),(155.6,0.63),(156.4,0.99),(157.3,0.77),(158.2,1.04),(159.0,1.08),(159.9,0.95),(160.8,0.68),(161.6,0.90),(162.5,1.17),(163.4,0.90),(164.2,0.86),(165.1,0.90),(165.9,0.81),(166.8,0.77),(167.7,0.59),(168.5,0.81),(169.4,0.72),(170.2,0.32),(171.1,0.50),(171.9,0.32),(172.8,0.41),(173.7,0.45),(174.5,0.27),(175.4,0.18),
            (176.3,0.72),(177.2,0.99),(178.0,1.26),(178.9,1.31),(179.8,1.17),(180.6,1.26),(181.5,1.22),(182.4,0.90),(183.2,1.17),(184.1,1.08),(185.0,1.22),(185.8,1.17),(186.7,0.99),(187.5,0.86),(188.4,0.77),(189.3,0.63),(190.1,0.59),(191.0,0.68),(191.9,0.63),(192.7,0.81),(193.6,0.86),(194.4,0.72),(195.3,0.77),(196.2,0.72),(197.0,0.68),(197.9,0.68),(198.8,0.72),(199.6,0.68),(200.5,0.72),(201.4,0.59),(202.2,0.54),(203.1,0.50),(204.0,0.41),(204.8,0.36),(205.7,0.41),(206.5,0.38),(207.4,0.36),(208.3,0.38),(209.1,0.41),(210.0,0.45),(210.9,0.36),(211.7,0.43),(212.6,0.38),(213.4,0.41),(214.3,0.45),(215.2,0.45),(216.0,0.43),(216.9,0.23),(217.8,0.41),(218.6,0.45),(219.5,0.47),(220.4,0.45),(221.2,0.45),(222.1,0.41),(223.0,0.36),(223.8,0.32),(224.7,0.36),(225.5,0.34),(226.4,0.29),(227.3,0.32),(228.1,0.27),(229.0,0.23),(229.9,0.29),(230.7,0.23),(231.6,0.18),(232.4,0.20),(234.2,0.20),(235.9,0.20),(237.6,0.18),(239.4,0.16),(240.2,0.14),(241.1,0.14),(241.9,0.11),(242.8,0.14),(243.7,0.09),(244.5,0.14),(245.4,0.18),(246.3,0.11),(247.1,0.16),(248.0,0.18),(248.8,0.18),(249.7,0.23),(250.6,0.27),(251.4,0.32),(252.3,0.27),(253.2,0.36),(254.0,0.41),(254.9,0.54),(255.8,0.41),(256.6,0.36),(257.5,0.18),(258.3,0.23),(259.2,0.36),(260.1,0.45),(260.9,0.50),(261.8,0.54),(262.7,0.59),(263.5,0.63),(264.4,0.72),(265.3,0.84),(266.1,0.72),(267.0,0.54),(267.9,0.41),(268.7,0.27),(269.6,0.32),(270.4,0.41),(271.3,0.38),(272.2,0.45),(273.0,0.54),(273.9,0.50),(274.8,0.23),(275.6,0.32),(276.5,0.45),(277.3,0.54),(278.2,0.59),(279.1,0.86),(279.9,0.77),(280.8,0.59),(281.7,0.63),(282.5,0.68),(283.4,0.63),(284.2,0.68),(285.1,0.59),(286.0,0.32),(286.8,0.18),(287.7,0.18),(288.6,0.27),(289.4,0.36),(290.3,0.41),(291.2,0.45),(292.0,0.32),(292.9,0.41),(293.7,0.63),(294.6,0.90),(295.5,0.81),(296.3,0.95),(297.2,0.81),(298.1,0.99),(298.9,0.86),(299.8,1.04),(300.7,0.95),(301.5,0.99),(302.4,0.81),(303.2,1.08),(304.1,0.99),(305.0,1.19),(305.8,0.99),(306.7,0.72),(307.6,0.45),(308.4,0.54),(309.3,0.59),(310.1,0.41),(311.0,0.59),(311.9,0.72),(312.7,0.68),(313.6,0.95),(314.5,0.54),(315.3,0.36),(316.2,0.14),(317.1,0.36),(317.9,0.68),(318.8,0.54),(319.7,0.27),(320.5,0.45),(321.4,0.50),(322.2,0.41),(323.1,0.18),(324.0,0.23),(324.8,0.32),(325.7,0.41),(326.6,0.18),(327.4,0.14),(328.3,0.18),(329.2,0.23),(330.0,0.18),(330.9,0.09),(331.7,0.14),(332.6,0.18),(333.4,0.09),(334.3,0.23),(335.2,0.05),(336.1,0.14),(336.9,0.18),(337.8,0.07),(338.6,0.18),(339.5,0.14),(340.4,0.09),(341.2,0.32),(342.1,0.27),(343.0,0.32),(343.8,0.41),(344.7,0.23),(345.6,0.18),(346.4,0.27),(347.3,0.61),(348.1,0.18),(349.0,0.32),(349.9,0.36),(350.7,0.59),(351.6,0.18),(352.5,0.27),(353.3,0.09),(354.2,0.09),(355.1,0.23),(355.9,0.27),(356.8,0.18),(357.6,0.23),(358.5,0.36),(359.4,0.18),(360.2,0.45),(361.1,0.27),(362.0,0.36),(362.8,0.32),(363.7,0.50),(364.6,0.32),(365.0,0.81)]

wi_orange = [(1.0,0.11),(1.9,0.14),(2.7,0.16),(3.6,0.05),(4.5,0.11),(5.3,0.09),(6.2,0.09),(7.0,0.14),(7.9,0.07),(8.8,0.23),(9.6,0.18),(10.5,0.23),(11.4,0.11),(12.2,0.18),(13.1,0.14),(14.0,0.05),(14.8,0.11),(15.7,0.05),(16.5,0.07),(17.4,0.14),(18.3,0.11),(19.1,0.18),(20.0,0.09),(20.9,0.14),(21.7,0.11),(22.6,0.09),(23.5,0.11),(24.3,0.05),(25.2,0.05),(26.0,0.07),(26.9,0.14),(27.8,0.23),(28.6,0.18),(29.5,0.27),(30.4,0.23),(31.2,0.29),(32.1,0.23),(33.0,0.32),(33.8,0.27),(34.7,0.36),(35.5,0.23),(36.4,0.29),(37.3,0.36),(38.1,0.32),(39.0,0.36),(39.9,0.27),(40.7,0.36),(41.6,0.41),(42.5,0.32),(43.3,0.38),(44.2,0.41),(45.0,0.41),(45.9,0.36),(46.8,0.41),(47.6,0.72),(48.5,0.77),(49.4,0.36),(50.2,0.63),(51.1,0.41),(51.9,0.45),(52.8,0.54),(53.7,0.41),(54.5,0.59),(55.4,0.36),(56.3,0.45),(57.1,0.50),(58.0,0.54),(58.8,0.43),(59.7,0.32),(60.6,0.23),(61.4,0.20),(62.3,0.18),(63.2,0.14),(64.9,0.11),(66.6,0.09),(68.4,0.07),(70.1,0.05),(71.8,0.02),(72.7,0.05),(73.2,0.36),(73.9,0.18),(74.8,0.27),(75.7,0.45),(76.6,0.77),(77.4,0.99),(78.3,0.63),(79.2,0.23),(80.0,0.14),(81.8,0.07),(83.5,0.02),(87.3,0.01),(88.2,0.09),(89.1,0.41),(89.9,0.23),(90.8,0.36),(91.6,0.14),(92.5,0.27),(93.4,0.18),(94.3,0.01),(96.0,0.02),(96.9,0.09),(97.7,0.27),(98.6,0.63),(99.5,0.72),(100.3,0.86),(101.2,1.04),(102.0,0.63),(102.9,0.41),(103.8,0.23),(104.6,0.14),(105.5,0.09),(107.2,0.05),(109.0,0.02),(110.7,0.01),(116.7,0.01),(117.6,0.54),(118.4,1.17),(119.3,1.08),(120.1,0.05),(121.0,0.01),(127.9,0.01),(128.8,0.72),(129.7,0.68),(130.5,0.32),(131.4,0.01),(136.6,0.01),(137.4,0.68),(138.3,0.59),(139.1,0.36),(140.0,0.99),(140.9,0.99),(141.7,1.08),(142.6,0.90),(143.5,0.54),(144.3,0.72),(145.2,0.50),(146.1,0.18),(146.9,0.01),(154.7,0.01),(155.6,0.09),(156.4,0.27),(157.3,0.41),(158.2,0.50),(159.0,0.41),(159.9,0.54),(160.8,0.41),(161.6,0.18),(162.5,0.05),(163.3,0.01),(171.1,0.01),(171.9,0.07),(172.8,0.09),(173.7,0.01),(174.6,0.02),(175.4,0.23),
             (176.3,0.54),(177.2,0.63),(178.0,0.59),(178.9,0.68),(179.8,0.63),(180.6,0.72),(181.5,0.68),(182.4,0.70),(183.2,0.59),(184.1,0.45),(185.0,0.41),(185.8,0.32),(186.7,0.27),(187.5,0.18),(188.4,0.14),(189.3,0.18),(190.1,0.14),(191.0,0.11),(192.7,0.09),(194.4,0.07),(196.2,0.05),(197.9,0.04),(199.6,0.04),(201.4,0.14),(202.2,0.18),(203.1,0.07),(204.8,0.05),(206.5,0.02),(210.0,0.23),(210.9,0.27),(211.7,0.07),(212.6,0.02),(227.3,0.02),(228.1,0.11),(229.0,0.02),(237.6,0.04),(239.4,0.09),(240.2,0.04),(241.1,0.07),(241.9,0.14),(242.8,0.07),(244.5,0.09),(245.4,0.05),(246.3,0.14),(247.1,0.18),(248.0,0.09),(248.8,0.27),(249.7,0.47),(250.6,0.36),(251.4,0.41),(252.3,0.27),(253.2,0.32),(254.0,0.23),(254.9,0.27),(255.8,0.18),(256.6,0.27),(257.5,0.23),(258.3,0.32),(259.2,0.27),(260.1,0.36),(260.9,0.23),(261.8,0.29),(262.7,0.23),(263.5,0.32),(264.4,0.36),(265.3,0.34),(266.1,0.27),(267.0,0.23),(267.9,0.18),(268.7,0.23),(269.6,0.29),(270.4,0.23),(271.3,0.27),(272.2,0.34),(273.0,0.23),(273.9,0.18),(274.8,0.27),(275.6,0.32),(276.5,0.23),(277.3,0.27),(278.2,0.20),(279.1,0.27),(279.9,0.25),(280.8,0.34),(281.7,0.36),(282.5,0.32),(283.4,0.38),(284.2,0.32),(285.1,0.34),(286.0,0.23),(286.8,0.27),(287.7,0.23),(288.6,0.20),(289.4,0.25),(290.3,0.27),(291.2,0.23),(292.0,0.27),(292.9,0.23),(293.7,0.29),(294.6,0.34),(295.5,0.32),(296.3,0.38),(297.2,0.32),(298.1,0.41),(298.9,0.36),(299.8,0.43),(300.7,0.36),(301.5,0.45),(302.4,0.38),(303.2,0.50),(304.1,0.41),(305.0,0.54),(305.8,0.36),(306.7,0.18),(307.6,0.23),(308.4,0.27),(309.3,0.18),(310.1,0.23),(311.0,0.14),(311.9,0.18),(312.7,0.27),(313.6,0.32),(314.5,0.23),(315.3,0.18),(316.2,0.09),(317.1,0.18),(317.9,0.23),(318.8,0.27),(319.7,0.18),(320.5,0.23),(321.4,0.18),(322.2,0.14),(323.1,0.23),(324.0,0.18),(324.8,0.23),(325.7,0.18),(326.6,0.27),(327.4,0.23),(328.3,0.18),(329.2,0.11),(330.0,0.14),(330.9,0.11),(331.7,0.07),(332.6,0.11),(333.4,0.07),(334.3,0.05),(335.2,0.07),(336.1,0.05),(337.0,0.07),(338.6,0.04),(339.5,0.07),(340.4,0.09),(341.2,0.07),(342.1,0.14),(343.0,0.11),(343.8,0.18),(344.7,0.11),(345.6,0.14),(346.4,0.09),(347.3,0.11),(348.1,0.18),(349.0,0.14),(349.9,0.11),(350.7,0.07),(351.6,0.09),(352.5,0.11),(353.3,0.14),(354.2,0.09),(355.1,0.14),(355.9,0.18),(356.8,0.14),(357.6,0.18),(358.5,0.16),(359.4,0.18),(360.2,0.27),(361.1,0.23),(362.0,0.14),(362.8,0.23),(363.7,0.27),(365.0,0.27)]

wi_blue = [(1,0.0),(110.7,0.0),(111.5,0.02),(114.9,0.04),(118.4,0.05),(120.1,0.02),(121.9,0.07),(123.6,0.05),(124.5,0.09),(125.3,0.07),(126.2,0.11),(127.1,0.09),(127.9,0.14),(128.8,0.11),(129.7,0.18),(130.5,0.16),(131.4,0.23),(132.2,0.19),(133.1,0.25),(134.0,0.23),(134.8,0.29),(135.7,0.27),(136.6,0.32),(137.4,0.29),(138.3,0.34),(139.1,0.32),(140.0,0.36),(140.9,0.34),(141.7,0.37),(142.6,0.36),(143.5,0.41),(144.3,0.38),(145.2,0.36),(146.1,0.41),(146.9,0.43),(147.8,0.36),(148.6,0.41),(149.5,0.41),(150.4,0.32),(151.2,0.36),(152.1,0.43),(152.9,0.38),(153.8,0.45),(154.7,0.41),(155.6,0.45),(156.4,0.18),(156.9,0.45),(157.8,0.47),(158.5,0.27),(159.5,0.50),(160.2,0.54),(161.3,0.59),(162.1,0.65),(163.0,0.68),(163.9,0.72),(164.7,0.70),(165.6,0.77),(166.4,0.81),(167.3,0.86),(168.2,0.81),(169.0,0.90),(169.9,0.86),(170.7,0.99),(171.6,0.29),(172.5,0.68),(173.3,0.70),(174.2,0.71),(175.0,0.49),(175.9,0.70),(176.8,0.45),(177.6,0.63),(178.5,0.65),
           (178.9,1.17),(179.8,0.99),(180.6,1.26),(181.5,0.99),(182.4,0.63),(183.2,1.04),(184.1,0.95),(185.0,1.04),(185.8,0.99),(186.7,0.90),(187.5,0.77),(188.4,0.63),(189.3,0.59),(190.1,0.63),(191.0,0.68),(191.9,0.63),(192.7,0.81),(193.6,0.83),(194.4,0.72),(195.3,0.77),(196.2,0.72),(197.0,0.70),(197.9,0.68),(198.8,0.72),(199.6,0.70),(200.5,0.72),(201.4,0.59),(202.2,0.54),(203.1,0.50),(204.0,0.41),(204.8,0.36),(205.7,0.41),(206.5,0.37),(207.4,0.36),(208.3,0.38),(209.1,0.41),(210.0,0.45),(210.9,0.36),(211.7,0.43),(212.6,0.38),(213.4,0.41),(214.3,0.45),(215.2,0.45),(216.0,0.41),(216.9,0.20),(217.8,0.41),(218.6,0.45),(219.5,0.47),(220.4,0.45),(221.2,0.45),(222.1,0.41),(223.0,0.36),(223.8,0.32),(224.7,0.36),(225.5,0.32),(226.4,0.28),(227.3,0.29),(228.1,0.26),(229.0,0.20),(229.9,0.28),(230.7,0.23),(231.6,0.19),(232.4,0.19),(234.2,0.19),(235.9,0.18),(237.6,0.17),(239.4,0.16),(240.2,0.14),(241.1,0.14),(241.9,0.11),(242.8,0.14),(243.7,0.11),(244.5,0.14),(245.4,0.11),(246.3,0.14),(247.1,0.18),(248.0,0.18),(248.8,0.20),(249.7,0.23),(250.6,0.27),(251.4,0.34),(252.3,0.41),(253.2,0.45),(254.0,0.23),(254.9,0.18),(255.8,0.25),(256.6,0.27),(257.5,0.29),(258.3,0.41),(259.2,0.45),(260.1,0.54),(260.9,0.59),(261.8,0.63),(262.7,0.72),(263.5,0.59),(264.4,0.50),(265.3,0.32),(266.1,0.41),(267.0,0.41),(267.9,0.41),(268.7,0.43),(269.6,0.45),(270.4,0.54),(271.3,0.63),(272.2,0.50),(273.0,0.18),(273.9,0.27),(274.8,0.45),(275.6,0.54),(276.5,0.63),(277.3,0.86),(278.2,0.72),(279.1,0.54),(279.9,0.68),(280.8,0.65),(281.7,0.70),(282.5,0.68),(283.4,0.54),(284.2,0.32),(285.1,0.18),(286.0,0.14),(286.8,0.27),(287.7,0.32),(288.6,0.43),(289.4,0.36),(290.3,0.32),(291.2,0.41),(292.0,0.27),(292.9,0.23),(293.7,0.18),(294.6,0.23),(295.5,0.18),(296.3,0.18),(297.2,0.09),(298.1,0.07),(298.9,0.05),(299.8,0.02),(301.5,0.0),(365,0.0)]

panels = [(ef_green, ef_orange, ef_blue),
          (bu_green, bu_orange, bu_blue),
          (wi_green, wi_orange, wi_blue)]
y_labels_per_panel = [['0', '1', '2', '3', '4'],
                      ['0', '1', '2', '3', ''],
                      ['0', '1', '2', '3', '']]

# ---------------- style ----------------
GREEN = '#00c800'
ORANGE = '#d0693a'
BLUE = '#0000f0'
LW = 2.0

fig = plt.figure(figsize=(8.87, 10.57), dpi=100)
left, width = 0.1428, 0.8549
rects = [(left, 0.6851, width, 0.3014),
         (left, 0.3605, width, 0.3247),
         (left, 0.0593, width, 0.3011)]

axes = []
for i, (rect, series) in enumerate(zip(rects, panels)):
    ax = fig.add_axes(rect)
    g, o, b = series
    lg, = ax.plot([p[0] for p in g], [p[1] for p in g], color=GREEN, lw=LW)
    lo, = ax.plot([p[0] for p in o], [p[1] for p in o], color=ORANGE, lw=LW)
    lb, = ax.plot([p[0] for p in b], [p[1] for p in b], color=BLUE, lw=LW)
    ax.set_xlim(1 - 14.56, 365 + 14.56)
    ax.set_ylim(-0.16, 4.16)
    ax.set_xticks(month_start_days)
    ax.set_yticks(y_ticks)
    ax.set_yticklabels(y_labels_per_panel[i], rotation=90, va='center')
    if i == 2:
        ax.set_xticklabels(month_labels)
    else:
        ax.set_xticklabels([])
    ax.tick_params(axis='both', direction='in', length=8, width=1.9,
                   top=True, right=True, labelsize=23.7, colors='black')
    ax.tick_params(axis='y', pad=16)
    ax.tick_params(axis='x', pad=19)
    for sp in ax.spines.values():
        sp.set_linewidth(1.9)
    ax.text(0.0136, 0.843, panel_names[i], transform=ax.transAxes,
            ha='left', va='center', fontsize=25, fontweight='bold', color='#1a1a1a')
    axes.append(ax)
    handles = (lb, lg, lo)

leg = axes[2].legend(handles, legend_labels, loc='upper left',
                     bbox_to_anchor=(0.4264, 0.914), frameon=False,
                     fontsize=18.7, handlelength=1.9, handletextpad=0.9,
                     labelspacing=0.65, borderpad=0, borderaxespad=0)
for t in leg.get_texts():
    t.set_color('#1a1a1a')
    t.set_linespacing(1.33)
for h in leg.get_lines():
    h.set_linewidth(1.6)

fig.text(25 / 887, 0.529, y_title, rotation=90, ha='center', va='center', fontsize=23.7)

fig.savefig('out.png', dpi=100)
